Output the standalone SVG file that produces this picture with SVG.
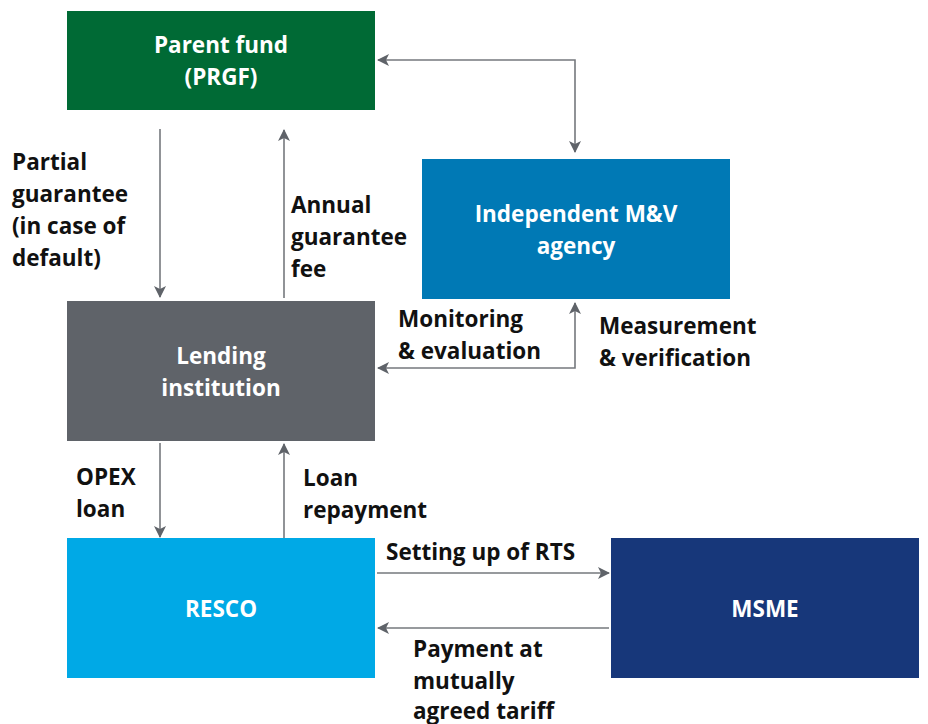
<svg xmlns="http://www.w3.org/2000/svg" width="928" height="724" viewBox="0 0 928 724">
<style>
.t{font-family:"Open Sans","Liberation Sans",sans-serif;font-weight:bold;font-size:22.5px;fill:#111111}
.w{font-family:"Open Sans","Liberation Sans",sans-serif;font-weight:bold;font-size:22.5px;fill:#ffffff;text-anchor:middle}
.c{stroke:#75787d;stroke-width:1.6;fill:none}
</style>
<defs>
<marker id="ah" viewBox="0 0 12 12" refX="11" refY="6" markerWidth="12" markerHeight="12" markerUnits="userSpaceOnUse" orient="auto-start-reverse">
<path d="M0,0 L12,6 L0,12 L3,6 Z" fill="#5f6369"/>
</marker>
</defs>
<rect width="928" height="724" fill="#ffffff"/>
<g id="parent">
<rect x="67" y="11" width="308" height="99" fill="#006a35"/>
<text class="w" x="221" y="53">Parent fund</text>
<text class="w" x="221" y="85">(PRGF)</text>
</g>
<g id="mv">
<rect x="422" y="159" width="308" height="140" fill="#0079b5"/>
<text class="w" x="576" y="222">Independent M&amp;V</text>
<text class="w" x="576" y="254">agency</text>
</g>
<g id="lending">
<rect x="67" y="301" width="308" height="140" fill="#5f6369"/>
<text class="w" x="221" y="364">Lending</text>
<text class="w" x="221" y="396">institution</text>
</g>
<g id="resco">
<rect x="67" y="538" width="308" height="140" fill="#00a9e6"/>
<text class="w" x="221" y="617">RESCO</text>
</g>
<g id="msme">
<rect x="611" y="538" width="308" height="140" fill="#17377a"/>
<text class="w" x="765" y="617">MSME</text>
</g>
<g id="connectors">
<path class="c" d="M378,60 H575 V152" marker-start="url(#ah)" marker-end="url(#ah)"/>
<path class="c" d="M160,129 V297" marker-end="url(#ah)"/>
<path class="c" d="M284,298 V130" marker-end="url(#ah)"/>
<path class="c" d="M575,303 V368 H378" marker-start="url(#ah)" marker-end="url(#ah)"/>
<path class="c" d="M160,443 V537" marker-end="url(#ah)"/>
<path class="c" d="M284,538 V444" marker-end="url(#ah)"/>
<path class="c" d="M377,573 H609" marker-end="url(#ah)"/>
<path class="c" d="M609,628 H378" marker-end="url(#ah)"/>
</g>
<g id="labels">
<text class="t" x="12" y="170">Partial</text>
<text class="t" x="12" y="202">guarantee</text>
<text class="t" x="12" y="234">(in case of</text>
<text class="t" x="12" y="266">default)</text>
<text class="t" x="291" y="213">Annual</text>
<text class="t" x="291" y="245">guarantee</text>
<text class="t" x="291" y="277">fee</text>
<text class="t" x="398" y="327">Monitoring</text>
<text class="t" x="398" y="359">&amp; evaluation</text>
<text class="t" x="599" y="334">Measurement</text>
<text class="t" x="599" y="366">&amp; verification</text>
<text class="t" x="76" y="485">OPEX</text>
<text class="t" x="76" y="517">loan</text>
<text class="t" x="303" y="486">Loan</text>
<text class="t" x="303" y="518">repayment</text>
<text class="t" x="386" y="560">Setting up of RTS</text>
<text class="t" x="413" y="657">Payment at</text>
<text class="t" x="413" y="689">mutually</text>
<text class="t" x="413" y="719">agreed tariff</text>
</g>
</svg>
